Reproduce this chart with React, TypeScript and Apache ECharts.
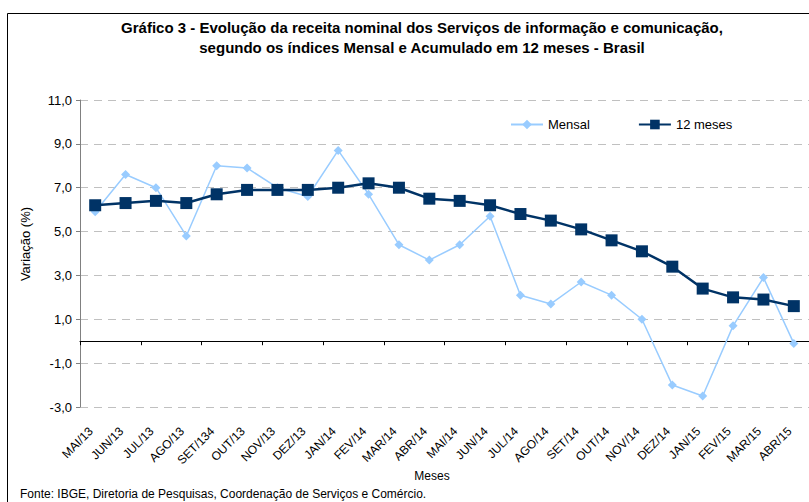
import React, { useEffect, useRef } from "react";
import * as echarts from "echarts";

const categories = [
  "MAI/13", "JUN/13", "JUL/13", "AGO/13", "SET/134", "OUT/13", "NOV/13", "DEZ/13",
  "JAN/14", "FEV/14", "MAR/14", "ABR/14", "MAI/14", "JUN/14", "JUL/14", "AGO/14",
  "SET/14", "OUT/14", "NOV/14", "DEZ/14", "JAN/15", "FEV/15", "MAR/15", "ABR/15",
];
const mensal = [
  5.9, 7.6, 7.0, 4.8, 8.0, 7.9, 7.0, 6.6, 8.7, 6.7, 4.4, 3.7,
  4.4, 5.7, 2.1, 1.7, 2.7, 2.1, 1.0, -2.0, -2.5, 0.7, 2.9, -0.1,
];
const meses12 = [
  6.2, 6.3, 6.4, 6.3, 6.7, 6.9, 6.9, 6.9, 7.0, 7.2, 7.0, 6.5,
  6.4, 6.2, 5.8, 5.5, 5.1, 4.6, 4.1, 3.4, 2.4, 2.0, 1.9, 1.6,
];
const titleLines = [
  "Gráfico 3 - Evolução da receita nominal dos Serviços de informação e comunicação,",
  "segundo os índices Mensal e Acumulado em 12 meses - Brasil",
];
const yAxisName = "Variação (%)";
const xAxisName = "Meses";
const sourceText = "Fonte: IBGE, Diretoria de Pesquisas, Coordenação de Serviços e Comércio.";

const FONT = "'Liberation Sans', Arial, sans-serif";

export default function App() {
  const ref = useRef<HTMLDivElement>(null);
  useEffect(() => {
    if (!ref.current) return;
    const chart = echarts.init(ref.current, undefined, { renderer: "svg" });
    chart.setOption({
      animation: false,
      backgroundColor: "#ffffff",
      textStyle: { fontFamily: FONT },
      title: {
        text: titleLines.join("\n"),
        left: 417,
        textAlign: "center",
        top: 12,
        textStyle: { fontFamily: FONT, fontSize: 15, fontWeight: "bold", color: "#000", lineHeight: 20 },
      },
      legend: {
        left: 505,
        top: 113,
        itemWidth: 32,
        itemHeight: 12,
        itemGap: 48,
        textStyle: { fontFamily: FONT, fontSize: 13, color: "#000" },
        data: ["Mensal", "12 meses"],
      },
      grid: { left: 80, right: -1, top: 100, bottom: 95, containLabel: false },
      xAxis: [
        {
          type: "category",
          data: categories,
          boundaryGap: true,
          position: "bottom",
          axisLine: { show: false, onZero: false },
          axisTick: { show: false },
          axisLabel: {
            rotate: 45,
            fontSize: 12,
            color: "#000",
            fontFamily: FONT,
            margin: 18,
            interval: 0,
            padding: [0, 6, 0, 0],
          },
        },
        {
          type: "category",
          data: categories,
          boundaryGap: true,
          position: "bottom",
          axisLine: { show: true, onZero: true, lineStyle: { color: "#000", width: 1 } },
          axisTick: { show: true, length: 4, lineStyle: { color: "#000" } },
          axisLabel: { show: false },
        },
      ],
      yAxis: {
        type: "value",
        min: -3,
        max: 11,
        interval: 2,
        axisLine: { show: true, lineStyle: { color: "#808080", width: 1 } },
        axisTick: { show: true, length: 4, lineStyle: { color: "#808080" } },
        axisLabel: {
          fontSize: 13,
          color: "#000",
          fontFamily: FONT,
          margin: 8,
          formatter: (v: number) => v.toFixed(1).replace(".", ","),
        },
        splitLine: { show: true, lineStyle: { color: "#c0c0c0", type: [8, 6], width: 1 } },
      },
      graphic: [
        {
          type: "rect",
          shape: { x: 7.5, y: 13.5, width: 900, height: 600 },
          style: { fill: "none", stroke: "#000", lineWidth: 1 },
          silent: true,
          z: -1,
        },
        {
          type: "text",
          x: 25,
          y: 244,
          rotation: Math.PI / 2,
          style: {
            text: yAxisName,
            fontFamily: FONT,
            fontSize: 13,
            fill: "#000",
            align: "center",
            verticalAlign: "middle",
          },
        },
        {
          type: "text",
          x: 432,
          y: 476,
          style: {
            text: xAxisName,
            fontFamily: FONT,
            fontSize: 12,
            fill: "#000",
            align: "center",
            verticalAlign: "middle",
          },
        },
        {
          type: "text",
          x: 20,
          y: 494,
          style: {
            text: sourceText,
            fontFamily: FONT,
            fontSize: 12,
            fill: "#000",
            align: "left",
            verticalAlign: "middle",
          },
        },
      ],
      series: [
        {
          name: "Mensal",
          type: "line",
          data: mensal,
          symbol: "diamond",
          symbolSize: 9,
          itemStyle: { color: "#99ccff" },
          lineStyle: { color: "#99ccff", width: 1.5 },
          z: 2,
        },
        {
          name: "12 meses",
          type: "line",
          data: meses12,
          symbol: "rect",
          symbolSize: 12,
          itemStyle: { color: "#003366" },
          lineStyle: { color: "#003366", width: 2.5 },
          z: 3,
        },
      ],
    });
    return () => chart.dispose();
  }, []);
  return (
    <div
      ref={ref}
      style={{ position: "fixed", left: 0, top: 0, width: 809, height: 502 }}
    />
  );
}
